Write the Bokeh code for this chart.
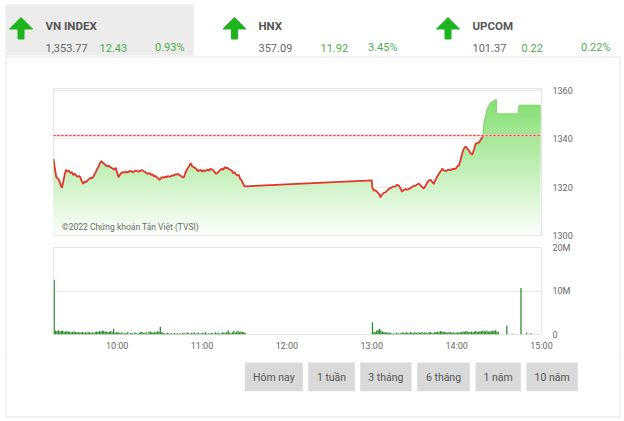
import numpy as np
from bokeh.plotting import figure
from bokeh.layouts import column, row
from bokeh.models import Range1d, FixedTicker, Label, Span
from bokeh.embed import file_html
from bokeh.resources import INLINE
from bokeh.core.properties import value

FONT = "Roboto"

# ---------------- data ----------------
index_names = ["VN INDEX", "HNX", "UPCOM"]
index_values = ["1,353.77", "357.09", "101.37"]
index_changes = ["12.43", "11.92", "0.22"]
index_pcts = ["0.93%", "3.45%", "0.22%"]

prev_close = 1341.34

price_times = [
    "09:15", "09:16", "09:17", "09:18", "09:19", "09:20", "09:21", "09:22", "09:23", "09:24",
    "09:25", "09:26", "09:27", "09:28", "09:29", "09:30", "09:31", "09:32", "09:33", "09:34",
    "09:35", "09:36", "09:37", "09:38", "09:39", "09:40", "09:41", "09:42", "09:43", "09:44",
    "09:45", "09:46", "09:47", "09:48", "09:49", "09:50", "09:51", "09:52", "09:53", "09:54",
    "09:55", "09:56", "09:57", "09:58", "09:59", "10:00", "10:01", "10:02", "10:03", "10:04",
    "10:05", "10:06", "10:07", "10:08", "10:09", "10:10", "10:11", "10:12", "10:13", "10:14",
    "10:15", "10:16", "10:17", "10:18", "10:19", "10:20", "10:21", "10:22", "10:23", "10:24",
    "10:25", "10:26", "10:27", "10:28", "10:29", "10:30", "10:31", "10:32", "10:33", "10:34",
    "10:35", "10:36", "10:37", "10:38", "10:39", "10:40", "10:41", "10:42", "10:43", "10:44",
    "10:45", "10:46", "10:47", "10:48", "10:49", "10:50", "10:51", "10:52", "10:53", "10:54",
    "10:55", "10:56", "10:57", "10:58", "10:59", "11:00", "11:01", "11:02", "11:03", "11:04",
    "11:05", "11:06", "11:07", "11:08", "11:09", "11:10", "11:11", "11:12", "11:13", "11:14",
    "11:15", "11:16", "11:17", "11:18", "11:19", "11:20", "11:21", "11:22", "11:23", "11:24",
    "11:25", "11:26", "11:27", "11:28", "11:29", "11:30",
    "13:00", "13:00:20", "13:01:24", "13:02:30", "13:03:48", "13:05", "13:06:12", "13:07",
    "13:08:30", "13:10", "13:10:54", "13:12", "13:13:12", "13:15", "13:16:48", "13:18",
    "13:19:06", "13:20", "13:21:30", "13:23", "13:23:54", "13:25", "13:27:24", "13:29",
    "13:30:54", "13:32", "13:33:18", "13:35", "13:36:48", "13:38", "13:39:12", "13:40:30",
    "13:41:36", "13:43", "13:43:54", "13:45", "13:46:18", "13:48", "13:49:48", "13:51",
    "13:52:12", "13:54", "13:55:42", "13:57", "13:59:18", "14:00:30", "14:01:36", "14:03",
    "14:04", "14:05", "14:06:18", "14:07:30", "14:08:42", "14:10", "14:11:06", "14:12:12",
    "14:13:24", "14:14:30", "14:15:48", "14:17", "14:18:06", "14:18:36", "14:19:18",
    "14:21:42", "14:24", "14:27:36", "14:28", "14:28:06", "14:44", "14:44:06", "14:59",
]
price_values = [
    1331.7, 1327.5, 1324.1, 1323.5, 1322.8, 1321.0, 1319.7, 1322.5, 1325.5, 1327.2,
    1326.5, 1326.8, 1325.8, 1326.2, 1325.0, 1325.6, 1324.8, 1324.3, 1324.6, 1324.1,
    1322.4, 1321.4, 1322.3, 1322.0, 1322.8, 1323.2, 1323.8, 1323.6, 1324.1, 1325.3,
    1326.4, 1327.6, 1328.8, 1330.2, 1330.8, 1330.0, 1329.6, 1329.0, 1328.7, 1328.9,
    1328.3, 1328.0, 1327.6, 1327.2, 1328.0, 1326.0, 1324.1, 1325.2, 1325.9, 1326.2,
    1326.0, 1326.5, 1326.1, 1326.3, 1326.7, 1326.6, 1326.2, 1326.4, 1326.9, 1326.7,
    1326.4, 1326.6, 1327.0, 1326.9, 1326.5, 1326.2, 1325.7, 1325.5, 1325.9, 1325.0,
    1325.3, 1324.4, 1324.7, 1324.1, 1323.6, 1323.0, 1323.7, 1324.2, 1323.9, 1324.4,
    1324.1, 1324.6, 1324.3, 1324.5, 1324.9, 1324.8, 1325.3, 1325.2, 1325.5, 1325.0,
    1324.6, 1324.2, 1323.9, 1325.5, 1326.9, 1327.9, 1328.8, 1329.9, 1328.7, 1328.3,
    1328.0, 1327.5, 1326.6, 1327.0, 1327.2, 1326.4, 1327.0, 1326.6, 1326.9, 1327.3,
    1326.8, 1327.6, 1327.3, 1326.9, 1326.2, 1325.5, 1325.9, 1326.6, 1327.1, 1327.6,
    1327.2, 1328.3, 1327.9, 1328.0, 1327.5, 1327.1, 1326.9, 1325.8, 1326.1, 1325.3,
    1324.8, 1325.1, 1323.4, 1322.8, 1321.5, 1320.3,
    1322.8, 1320.0, 1318.5, 1318.8, 1318.0, 1317.3, 1315.8, 1316.8,
    1317.6, 1318.0, 1318.6, 1319.3, 1319.6, 1320.2, 1320.3, 1321.0,
    1320.7, 1319.8, 1318.1, 1319.0, 1319.2, 1318.9, 1319.6, 1320.3,
    1320.6, 1321.1, 1321.5, 1320.4, 1319.4, 1320.5, 1321.9, 1322.8,
    1323.0, 1322.0, 1321.3, 1322.9, 1324.4, 1326.0, 1327.6, 1327.0,
    1326.6, 1327.2, 1327.0, 1327.5, 1327.6, 1328.6, 1329.0, 1331.7,
    1334.1, 1335.8, 1336.8, 1336.0, 1335.2, 1333.8, 1333.5, 1335.5,
    1337.9, 1338.2, 1338.5, 1339.6, 1340.5, 1341.4, 1346.2,
    1352.4, 1354.7, 1356.1, 1356.1, 1350.3, 1350.3, 1353.77, 1353.77,
]

vol_morning_start = "09:15"
vol_morning = [
    12.6, 0.9, 0.8, 1.0, 0.7, 0.8, 0.9, 0.6, 0.7, 0.8, 0.6, 0.7, 0.5, 0.6, 0.7,
    0.6, 0.5, 0.6, 0.4, 0.5, 0.6, 0.4, 0.5, 0.4, 0.6, 0.5, 0.4, 0.5, 0.3, 0.6,
    0.7, 0.6, 0.8, 0.7, 0.9, 0.8, 0.6, 0.7, 0.5, 0.6, 0.8, 0.5, 1.3, 0.4, 0.5,
    0.6, 0.4, 0.3, 0.5, 0.2, 0.4, 0.3, 0.5, 0.2, 0.3, 0.4, 0.2, 0.5, 0.3, 0.2,
    0.4, 0.5, 0.6, 0.4, 0.3, 0.5, 0.2, 0.6, 0.7, 0.5, 0.4, 0.6, 0.5, 0.8, 0.6,
    1.8, 0.5, 0.4, 0.3, 0.2, 0.4, 0.3, 0.2, 0.3, 0.2, 0.4, 0.2, 0.3, 0.2, 0.3,
    0.2, 0.4, 0.3, 0.2, 0.5, 0.3, 0.2, 0.4, 0.3, 0.5, 0.2, 0.3, 0.4, 0.2, 0.3,
    0.4, 0.3, 0.5, 0.2, 0.3, 0.2, 0.4, 0.3, 0.2, 0.5, 0.3, 0.4, 0.2, 0.3, 0.5,
    0.4, 0.3, 0.6, 0.9, 0.4, 0.3, 0.5, 0.8, 0.4, 0.6, 0.9, 0.5, 0.7, 0.6, 0.5,
    0.4,
]
vol_afternoon_start = "13:00"
vol_afternoon = [
    2.8, 0.6, 0.5, 0.9, 1.1, 1.3, 0.9, 0.7, 0.5, 0.6, 0.4, 0.5, 0.3, 0.4, 0.2,
    0.3, 0.2, 0.4, 0.3, 0.2, 0.3, 0.5, 0.4, 0.3, 0.5, 0.4, 0.3, 0.6, 0.4, 0.3,
    0.5, 0.4, 0.3, 0.5, 0.4, 0.6, 0.3, 0.5, 0.4, 0.3, 0.5, 0.6, 0.4, 0.3, 0.5,
    0.6, 0.7, 0.5, 0.8, 0.6, 0.7, 0.5, 0.6, 0.4, 0.5, 0.6, 0.4, 0.5, 0.3, 0.4,
    0.5, 0.4, 0.6, 0.5, 0.7, 0.6, 0.8, 0.7, 0.5, 0.6, 0.7, 0.5, 0.6, 0.8, 0.7,
    0.6, 0.8, 0.7, 0.9, 0.8, 0.7, 0.9, 0.6, 0.8, 0.7, 0.9, 0.8, 1.0, 0.7, 0.6,
]
vol_late_times = ["14:35", "14:39", "14:45", "14:49", "14:52"]
vol_late = [2.0, 0.2, 10.7, 0.4, 0.3]

price_ticks = [1300, 1320, 1340, 1360]
vol_ticks = [0, 10, 20]
vol_tick_labels = ["0", "10M", "20M"]
time_ticks = ["10:00", "11:00", "12:00", "13:00", "14:00", "15:00"]
copyright_text = "©2022 Chứng khoán Tân Việt (TVSI)"
buttons = ["Hôm nay", "1 tuần", "3 tháng", "6 tháng", "1 năm", "10 năm"]


def hours(t):
    parts = [int(s) for s in t.split(":")]
    while len(parts) < 3:
        parts.append(0)
    return parts[0] + parts[1] / 60 + parts[2] / 3600


GREEN_TXT = "#4cae4c"
GRAY_TXT = "#666666"
BORDER = "#e2e2e2"
W = 622


def bare(fig):
    fig.grid.visible = False
    fig.outline_line_color = None
    fig.background_fill_color = "white"
    fig.border_fill_color = "white"
    return fig


# ---------------- header ----------------
hdr = bare(figure(width=W, height=58, x_range=Range1d(0, W), y_range=Range1d(58, 0),
                  toolbar_location=None, output_backend="svg", min_border=0,
                  x_axis_location=None, y_axis_location=None))
hdr.quad(left=[5], right=[193], top=[4], bottom=[55], fill_color="#ececec", line_color=None)
hdr.segment(x0=[5], y0=[56.5], x1=[619.5], y1=[56.5], line_color=BORDER, line_width=1)
hdr.segment(x0=[5.5, 619.5], y0=[56.5, 56.5], x1=[5.5, 619.5], y1=[58, 58],
            line_color=BORDER, line_width=1)

arrow_cx = [20.5, 234, 447.5]
name_x = [45, 258, 472]
chg_x = [99, 320, 521]
pct_right = [184, 397, 610]
for cx in arrow_cx:
    xs = [cx, cx + 11.5, cx + 3, cx + 3, cx - 3, cx - 3, cx - 11.5]
    ys = [17, 28.5, 28.5, 38.5, 38.5, 28.5, 28.5]
    hdr.patch(xs, ys, fill_color="#1db41d", line_color="#1db41d", line_width=1)

hdr.text(x=name_x, y=[25] * 3, text=index_names, text_font=value(FONT), text_font_style="bold",
         text_font_size="11.5px", text_color="#555555", text_baseline="alphabetic")
hdr.text(x=name_x, y=[47] * 3, text=index_values, text_font=value(FONT),
         text_font_size="11px", text_color=GRAY_TXT, text_baseline="alphabetic")
hdr.text(x=chg_x, y=[47] * 3, text=index_changes, text_font=value(FONT),
         text_font_size="11px", text_color=GREEN_TXT, text_baseline="alphabetic")
hdr.text(x=pct_right, y=[47] * 3, text=index_pcts, text_font=value(FONT), text_align="right",
         text_font_size="11px", text_color=GREEN_TXT, text_baseline="alphabetic")

# ---------------- side strips (panel borders) ----------------
left_strip = bare(figure(width=8, height=300, x_range=Range1d(0, 8), y_range=Range1d(0, 1),
                         toolbar_location=None, output_backend="svg", min_border=0,
                         x_axis_location=None, y_axis_location=None))
left_strip.segment(x0=[5.5], y0=[0], x1=[5.5], y1=[1], line_color=BORDER, line_width=1)
right_strip = bare(figure(width=W - 600, height=300, x_range=Range1d(600, W), y_range=Range1d(0, 1),
                          toolbar_location=None, output_backend="svg", min_border=0,
                          x_axis_location=None, y_axis_location=None))
right_strip.segment(x0=[619.5], y0=[0], x1=[619.5], y1=[1], line_color=BORDER, line_width=1)

# ---------------- price chart ----------------
tx = np.array([hours(t) for t in price_times])
pv = np.array(price_values)
xr = Range1d(hours("09:15"), hours("15:00"))

p = figure(width=592, height=183, x_range=xr, y_range=Range1d(1300, 1360.8),
           toolbar_location=None, output_backend="svg",
           min_border_left=45, min_border_right=59, min_border_top=30, min_border_bottom=6,
           x_axis_location=None, y_axis_location="right")
p.background_fill_color = "white"
p.border_fill_color = "white"
p.outline_line_color = "#e6e6e6"
p.xgrid.visible = False
p.ygrid.ticker = FixedTicker(ticks=price_ticks)
p.ygrid.grid_line_color = "#e8e8e8"
ax = p.yaxis[0]
ax.ticker = FixedTicker(ticks=price_ticks)
ax.axis_line_color = None
ax.major_tick_line_color = None
ax.minor_tick_line_color = None
ax.major_tick_out = 0
ax.major_label_standoff = 11
ax.major_label_text_font = FONT
ax.major_label_text_font_size = "9px"
ax.major_label_text_color = GRAY_TXT

# gradient area: layered bands
lo_v = 1300.0
top_rgb = np.array([130, 222, 110])
bot_rgb = np.array([252, 255, 251])
levels = np.arange(lo_v, 1357.0, 1.0)
for L in levels:
    t = (L + 0.5 - lo_v) / (1357.0 - lo_v)
    c = bot_rgb + (top_rgb - bot_rgb) * t
    col = "#%02x%02x%02x" % tuple(int(round(q)) for q in c)
    y1 = np.minimum(pv, L)
    p.varea(x=tx, y1=y1, y2=pv, fill_color=col, fill_alpha=1.0)

# reference line (previous close): pale pink underlay + red dots
p.add_layout(Span(location=prev_close, dimension="width", line_color="#f7c4c4",
                  line_width=2, level="overlay"))
p.add_layout(Span(location=prev_close, dimension="width", line_color="#f03030",
                  line_dash="2 2", line_width=1, level="overlay"))

# price line: red below reference, green above
idx = int(np.argmax(pv > prev_close))
f = (prev_close - pv[idx - 1]) / (pv[idx] - pv[idx - 1])
xc = tx[idx - 1] + f * (tx[idx] - tx[idx - 1])
red_x = np.append(tx[:idx], xc)
red_y = np.append(pv[:idx], prev_close)
grn_x = np.insert(tx[idx:], 0, xc)
grn_y = np.insert(pv[idx:], 0, prev_close)
p.line(x=grn_x, y=grn_y, line_color="#86dc72", line_width=1.5)
p.line(x=red_x, y=red_y, line_color="#e2352a", line_width=1.8)

p.add_layout(Label(x=hours("09:21"), y=1303.5, text=copyright_text, text_font=FONT,
                   text_font_size="8.5px", text_color="#6a6a6a", text_baseline="middle"))

# ---------------- volume chart ----------------
vx = ([hours(vol_morning_start) + i / 60 for i in range(len(vol_morning))] +
      [hours(vol_afternoon_start) + i / 60 for i in range(len(vol_afternoon))] +
      [hours(t) for t in vol_late_times])
vy = list(vol_morning) + list(vol_afternoon) + list(vol_late)

v = figure(width=592, height=117, x_range=xr, y_range=Range1d(0, 20),
           toolbar_location=None, output_backend="svg",
           min_border_left=45, min_border_right=59, min_border_top=6, min_border_bottom=24,
           x_axis_location="below", y_axis_location="right")
v.background_fill_color = "white"
v.border_fill_color = "white"
v.outline_line_color = "#e6e6e6"
v.xgrid.visible = False
v.ygrid.ticker = FixedTicker(ticks=vol_ticks)
v.ygrid.grid_line_color = "#e8e8e8"
v.vbar(x=np.array(vx) + 0.5 / 60, top=vy, width=0.9 / 60, fill_color="#2a8c2a", line_color=None)

vya = v.yaxis[0]
vya.ticker = FixedTicker(ticks=vol_ticks)
vya.major_label_overrides = {k: s for k, s in zip(vol_ticks, vol_tick_labels)}
vxa = v.xaxis[0]
tick_h = [int(t.split(":")[0]) for t in time_ticks]
vxa.ticker = FixedTicker(ticks=tick_h)
vxa.major_label_overrides = {k: s for k, s in zip(tick_h, time_ticks)}
for a in (vya, vxa):
    a.axis_line_color = None
    a.major_tick_line_color = None
    a.minor_tick_line_color = None
    a.major_tick_out = 0
    a.major_label_text_font = FONT
    a.major_label_text_font_size = "9px"
    a.major_label_text_color = GRAY_TXT
vya.major_label_standoff = 11
vxa.major_label_standoff = 6

# ---------------- buttons ----------------
btn = bare(figure(width=W, height=62, x_range=Range1d(0, W), y_range=Range1d(420, 358),
                  toolbar_location=None, output_backend="svg", min_border=0,
                  x_axis_location=None, y_axis_location=None))
btn_left = [244.3, 307.7, 359.7, 416.7, 475.0, 526.0]
btn_right = [302.3, 354.3, 411.0, 469.3, 520.3, 577.3]
btn.quad(left=btn_left, right=btn_right, top=[362] * 6, bottom=[390.7] * 6,
         fill_color="#d9d9d9", line_color=None)
btn.text(x=[(a + b) / 2 for a, b in zip(btn_left, btn_right)], y=[377] * 6, text=buttons,
         text_font=value(FONT), text_font_size="10.5px", text_color="#555555",
         text_align="center", text_baseline="middle")
btn.segment(x0=[5.5, 619.5], y0=[358, 358], x1=[5.5, 619.5], y1=[416.5, 416.5],
            line_color=BORDER, line_width=1)
btn.segment(x0=[5.5], y0=[416.5], x1=[619.5], y1=[416.5], line_color=BORDER, line_width=1)

layout = column(hdr, row(left_strip, column(p, v), right_strip), btn)
open("out.html", "w").write(file_html(layout, INLINE))
